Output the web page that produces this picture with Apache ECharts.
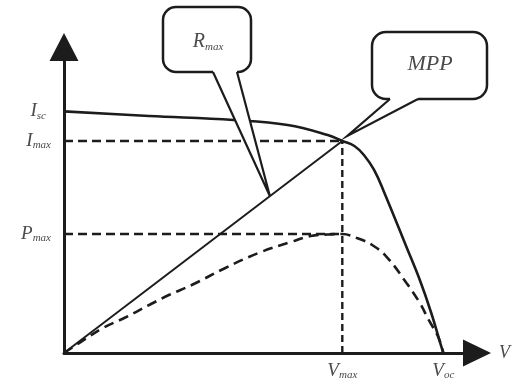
<!DOCTYPE html>
<html>
<head>
<meta charset="utf-8">
<script src="https://cdn.jsdelivr.net/npm/echarts@6/dist/echarts.min.js"></script>
<style>
  html, body { margin: 0; padding: 0; background: #fff; }
  #chart { width: 513px; height: 390px; }
</style>
</head>
<body>
<div id="chart"></div>
<script>
// Characteristic points of the cell (V in volts, I in amperes; power drawn on the current scale)
const Voc = 0.597;
const Vmax = 0.438;
const Isc = 3.0;
const Imax = 2.633;
const Pmax = 1.478;

// I–V curve samples
const ivVoltage = [0, 0.134, 0.267, 0.352, 0.415, 0.438, 0.457, 0.472, 0.488, 0.503, 0.539, 0.560, 0.578, 0.594, 0.597];
const ivCurrent = [3.0, 2.943, 2.893, 2.831, 2.707, 2.633, 2.571, 2.459, 2.273, 2.012, 1.316, 0.906, 0.497, 0.075, 0];

// P–V curve samples
const pvVoltage = [0, 0.036, 0.061, 0.098, 0.134, 0.165, 0.201, 0.254, 0.306, 0.357, 0.388, 0.415, 0.438, 0.461, 0.485, 0.508, 0.539, 0.560, 0.574, 0.589, 0.597];
const pvPower = [0, 0.186, 0.310, 0.447, 0.596, 0.720, 0.844, 1.056, 1.242, 1.378, 1.453, 1.472, 1.478, 1.428, 1.341, 1.192, 0.869, 0.621, 0.410, 0.199, 0];

// Point on the R_max load line where its callout points
const rmaxTip = [0.324, 1.95];

const INK = '#1c1c1c';
const TEXT = '#4a4a4a';
const SERIF = '"Liberation Serif", "DejaVu Serif", serif';

const zip = (xs, ys) => xs.map((x, i) => [x, ys[i]]);

const labelRich = {
  m: { fontFamily: SERIF, fontStyle: 'italic', fontSize: 19, lineHeight: 20, color: TEXT },
  s: { fontFamily: SERIF, fontStyle: 'italic', fontSize: 11, lineHeight: 11, color: TEXT, verticalAlign: 'bottom' },
  pad: { width: 5 }
};

const chart = echarts.init(document.getElementById('chart'));

chart.setOption({
  animation: false,
  backgroundColor: '#fff',
  grid: { left: 64, right: 32, top: 47, bottom: 37 },
  xAxis: {
    type: 'value', min: 0, max: 0.65,
    splitLine: { show: false },
    axisTick: { show: false },
    axisLine: { lineStyle: { color: INK, width: 3 }, symbol: ['none', 'triangle'], symbolSize: [27, 28] },
    name: 'V', nameLocation: 'end', nameGap: 22,
    nameTextStyle: { fontFamily: SERIF, fontStyle: 'italic', fontSize: 18, color: TEXT },
    axisLabel: {
      customValues: [Vmax, Voc],
      margin: 8,
      rich: labelRich,
      formatter: v => v === Vmax ? '{m|V}{s|max}' : '{m|V}{s|oc}'
    }
  },
  yAxis: {
    type: 'value', min: 0, max: 3.8,
    splitLine: { show: false },
    axisTick: { show: false },
    axisLine: { lineStyle: { color: INK, width: 3 }, symbol: ['none', 'triangle'], symbolSize: [29, 28] },
    axisLabel: {
      customValues: [Pmax, Imax, Isc],
      margin: 13,
      rich: labelRich,
      formatter: v => {
        if (v === Isc) return '{m|I}{s|sc}{pad|}';
        if (v === Imax) return '{m|I}{s|max}';
        return '{m|P}{s|max}';
      }
    }
  },
  series: [
    {
      name: 'I-V', type: 'line', data: zip(ivVoltage, ivCurrent),
      smooth: 0.4, showSymbol: false, z: 5,
      lineStyle: { color: INK, width: 2.6 }
    },
    {
      name: 'P-V', type: 'line', data: zip(pvVoltage, pvPower),
      smooth: 0.4, showSymbol: false, z: 4,
      lineStyle: { color: INK, width: 2.6, type: [10, 6] }
    },
    {
      name: 'Rmax', type: 'line', data: [[0, 0], [Vmax, Imax]],
      showSymbol: false, z: 4,
      lineStyle: { color: INK, width: 2 }
    },
    {
      name: 'Imax guide', type: 'line', data: [[0, Imax], [Vmax, Imax]],
      showSymbol: false, z: 3,
      lineStyle: { color: INK, width: 2.6, type: [9, 5] }
    },
    {
      name: 'Pmax guide', type: 'line', data: [[0, Pmax], [Vmax, Pmax]],
      showSymbol: false, z: 3,
      lineStyle: { color: INK, width: 2.6, type: [9, 5] }
    },
    {
      name: 'Vmax guide', type: 'line', data: [[Vmax, 0], [Vmax, Imax]],
      showSymbol: false, z: 3,
      lineStyle: { color: INK, width: 2.4, type: [7, 4] }
    }
  ]
});

// Speech-bubble callouts: rounded box, white tail pointing at a spot on the chart
function callout(box, baseL, baseR, tip, label) {
  const by = box.y + box.height;
  return [
    {
      type: 'rect', z: 100,
      shape: { x: box.x, y: box.y, width: box.width, height: box.height, r: box.r },
      style: { fill: '#fff', stroke: INK, lineWidth: 2.5 }
    },
    {
      type: 'polygon', z: 101,
      shape: { points: [[baseL, by - 2.5], [baseL, by], tip, [baseR, by], [baseR, by - 2.5]] },
      style: { fill: '#fff', stroke: null }
    },
    {
      type: 'polyline', z: 102,
      shape: { points: [[baseL, by], tip, [baseR, by]] },
      style: { fill: null, stroke: INK, lineWidth: 2.2, lineJoin: 'miter' }
    },
    {
      type: 'text', z: 103,
      x: label.x, y: label.y,
      style: {
        text: label.text,
        rich: {
          m: Object.assign({}, labelRich.m, { fontSize: label.size, lineHeight: label.size + 2 }),
          s: labelRich.s
        },
        fontFamily: SERIF, fontStyle: 'italic', fontSize: label.size, fill: TEXT,
        align: 'center', verticalAlign: 'middle'
      }
    }
  ];
}

const mppPx = chart.convertToPixel({ gridIndex: 0 }, [Vmax, Imax]);
const rTipPx = chart.convertToPixel({ gridIndex: 0 }, rmaxTip);

chart.setOption({
  graphic: [].concat(
    callout({ x: 163, y: 7, width: 88, height: 65, r: 13 }, 213, 237, rTipPx,
      { x: 208, y: 42, text: '{m|R}{s|max}', size: 20 }),
    callout({ x: 372, y: 32, width: 115, height: 67, r: 14 }, 390, 418, [mppPx[0] + 5, mppPx[1] - 5],
      { x: 430, y: 64, text: '{m|MPP}', size: 22 })
  )
});
</script>
</body>
</html>
